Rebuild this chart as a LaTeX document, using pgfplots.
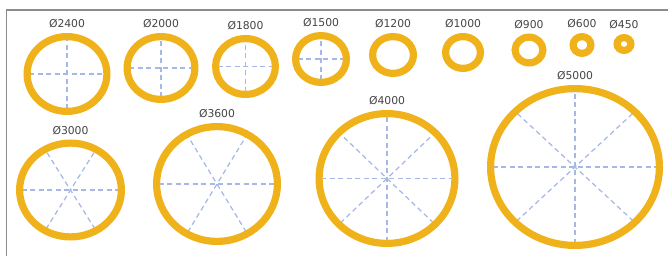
\documentclass[border=0pt]{standalone}
\usepackage{fontspec}
\setmainfont{DejaVu Sans}
\usepackage{pgfplots}
\usepackage{pgfplotstable}
\pgfplotsset{compat=1.18}
\definecolor{ringc}{HTML}{F0B21B}
\definecolor{spokec}{HTML}{A6B8E6}
\definecolor{labc}{HTML}{454545}
\definecolor{framec}{HTML}{8C8C8C}
\pgfdeclareplotmark{emptymark}{}

\pgfplotstableread{
lab  cx    cy    rx    ry    spk
2400 67    74    43.5  41    2
2000 161   68    37.5  35    2
1800 245.5 66.5  33.5  31.5  2
1500 321   59    29    27    2
1200 393   55    24    22    0
1000 463   52.5  21    19.5  0
900  529   50    17.5  16.5  0
600  582   45    12.5  12    0
450  624   44    10.5  10    0
3000 70.5  190   54.5  50.5  3
3600 217   184   64    61    3
4000 387   178.5 71.5  68.5  4
5000 575   167   88    82    4
}\rings

\begin{document}
\begin{tikzpicture}
\begin{axis}[
  x=1pt, y=1pt,
  xmin=0, xmax=668, ymin=0, ymax=256,
  y dir=reverse,
  hide axis, clip=false,
  scale only axis,
]
\addplot[draw=framec, line width=1.3pt, mark=none] coordinates {(6.5,256) (6.5,10) (668,10)};
\addplot[
  scatter, only marks, mark=emptymark,
  visualization depends on={\thisrow{rx}\as\rx},
  visualization depends on={\thisrow{ry}\as\ry},
  visualization depends on={\thisrow{spk}\as\spkraw},
  visualization depends on={\thisrow{lab}\as\labraw},
  scatter/@pre marker code/.code={%
    \begingroup
    \pgfkeys{/pgf/fpu=false}%
    \pgfmathtruncatemacro\spk{\spkraw}%
    \pgfmathtruncatemacro\lab{\labraw}%
    \pgfmathsetmacro\rxa{\rx-3.6}%
    \pgfmathsetmacro\rya{\ry-3.6}%
    \pgfmathsetmacro\rxs{\rx-5.5}%
    \pgfmathsetmacro\rys{\ry-5.5}%
    \pgfmathsetmacro\ly{\ry+9}%
    \def\angs{}%
    \ifcase\spk\relax\or\or\def\angs{0,90}\or\def\angs{0,60,120}\or\def\angs{0,45,90,135}\fi
    \ifnum\spk>0
      \foreach \ang in \angs {%
        \draw[spokec, dash pattern=on 5pt off 3.5pt, line width=1.25pt]
          ({-\rxs*cos(\ang)*1pt},{-\rys*sin(\ang)*1pt}) --
          ({\rxs*cos(\ang)*1pt},{\rys*sin(\ang)*1pt});
      }%
    \fi
    \draw[ringc, line width=7.2pt] (0,0) ellipse [x radius=\rxa pt, y radius=\rya pt];
    \node[text=labc, font=\fontsize{10.8}{12}\selectfont, inner sep=0pt] at (0pt,\ly pt) {Ø\lab};
  },
  scatter/@post marker code/.code={\endgroup},
] table[x=cx, y=cy] {\rings};
\end{axis}
\pgfresetboundingbox
\useasboundingbox (current axis.south west) rectangle (current axis.north east);
\end{tikzpicture}
\end{document}
